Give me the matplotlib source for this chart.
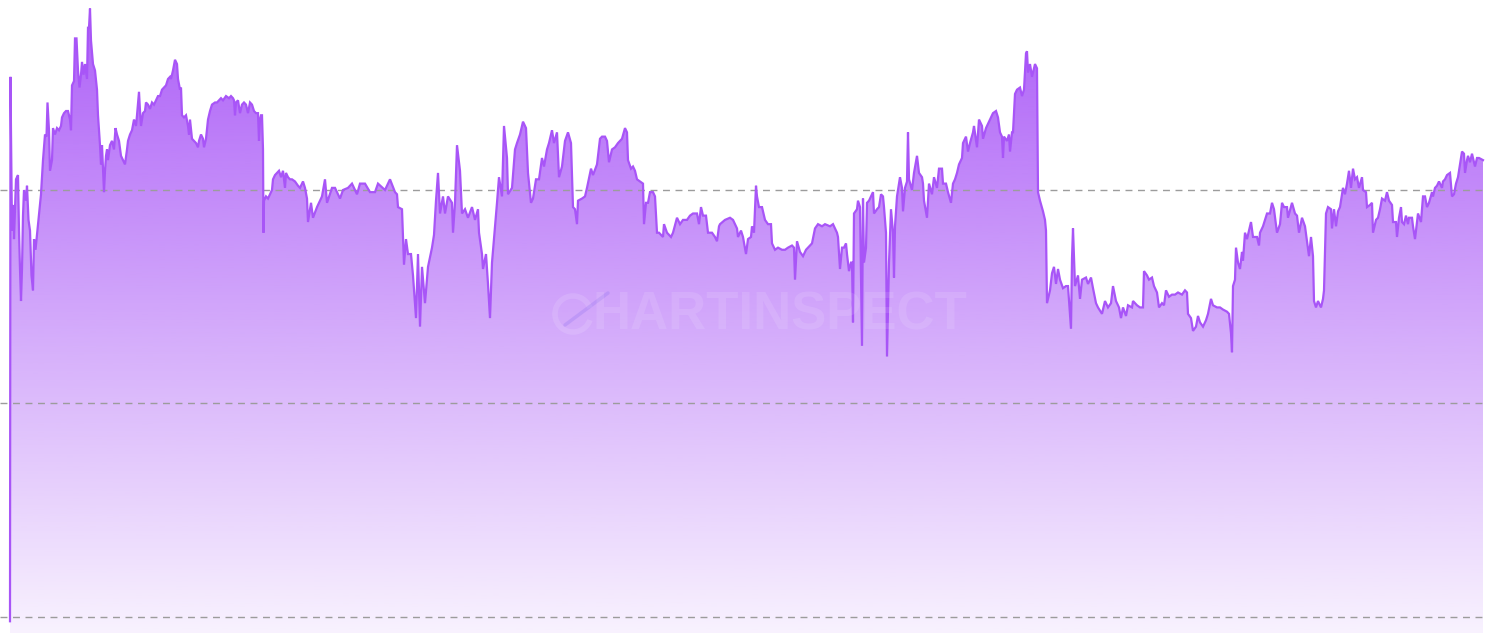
import matplotlib
matplotlib.use("Agg")
import matplotlib.pyplot as plt
import numpy as np
from matplotlib.colors import to_rgb
from matplotlib.patches import Arc

# day offsets and index level (gridlines sit at 0 / 100 / 200)
days = [0, 0.5, 1, 2, 3.5, 4, 6, 8, 9, 10, 11, 12, 13, 14, 16, 17, 18.5, 20, 21.5, 23,
        24, 25.5, 27, 29, 31, 33, 35, 36.5, 37.5, 39, 40, 42, 43, 45, 47, 49, 51, 52, 54, 56,
        58, 60, 61, 62, 64, 65, 66.5, 68, 69.5, 71, 72, 73.5, 75, 77, 78, 79, 80, 81, 83, 85,
        87, 88, 90, 91, 92, 94, 95, 96, 97, 98, 100, 102, 104, 105.5, 107, 109, 111, 113, 115, 117,
        118, 120, 122, 124, 126, 127, 129, 130, 131, 133, 135, 136, 138, 140, 142, 144, 146, 148, 150, 152,
        154, 156, 158, 160, 161, 163, 165, 167, 168, 170, 171, 172, 174, 176, 178, 179, 180, 182, 184, 186,
        188, 189, 191, 193, 194, 196, 198, 200, 202, 205, 207, 209, 211, 213, 216, 219, 221, 223, 224, 225,
        226, 228, 230, 232, 234, 236, 238, 240, 242, 244, 246, 248, 249, 250, 251, 252, 253, 253.5, 254, 256,
        258, 260, 262, 263, 265, 267, 269, 271, 273, 275, 276, 278, 280, 282, 285, 288, 290,
        293, 295, 297, 298, 301, 303, 307, 312, 315, 317, 322, 325, 330, 333, 338, 342, 347, 350, 355, 360,
        365, 368, 375, 380, 385, 387, 388, 392, 394, 396, 398, 401, 403, 406, 408, 410, 412, 415, 418, 422,
        424, 426, 428, 430, 433, 435, 438, 442, 443, 445, 447, 450, 452, 455, 458, 462, 465, 468, 469, 472,
        473, 476, 478, 480, 482, 484, 487, 489,
        492, 494, 497, 498, 502, 505, 507, 510, 513, 516, 518, 521, 523, 526, 529, 532, 534, 537, 539, 542,
        544, 547, 549, 552, 555, 558, 561, 563, 565, 567, 568, 572, 575, 577, 581, 583, 587, 590, 592, 595,
        597, 599, 602, 605, 608, 612, 615, 617, 618, 621, 623, 625, 627, 630, 633, 634, 636, 638, 640, 643,
        645, 647, 649, 653, 654, 657, 661, 663, 667, 670, 673, 677, 680, 683, 687, 689, 691, 693, 696, 698,
        702, 705, 707, 709,
        710, 715, 720, 723, 727, 728, 731, 733, 736, 738, 741, 742, 744, 746, 747, 749, 752, 755, 758, 761,
        762, 765, 768, 772, 775, 778, 782, 784, 785, 787, 790, 793, 796, 798, 802, 805, 808, 812, 815, 820,
        823, 827, 828, 830, 832, 834, 836, 837, 839, 841, 842, 843, 844, 847, 848, 850, 852, 853, 854, 856,
        857, 859, 861, 863, 864, 867, 869, 871, 873, 874, 876, 877, 879, 881, 883, 884, 885, 887, 888, 890,
        892, 893, 895, 897, 898, 899, 902, 904, 907, 909, 912, 913, 914, 917, 919, 922, 924, 927, 929, 932,
        933, 936, 938, 941, 943, 945, 947, 949, 952, 953, 956, 958, 960, 963, 964, 967, 969, 972, 973, 976,
        978, 981, 983, 986, 988, 990, 992, 993, 994, 997, 999, 1000, 1002, 1003, 1005, 1007, 1010, 1012, 1014, 1016,
        1017, 1018, 1020, 1022, 1023, 1025, 1027, 1028, 1030, 1033, 1035, 1036, 1037, 1040, 1042, 1044, 1046, 1048, 1050, 1053,
        1056, 1058, 1060, 1061, 1062, 1063, 1065, 1068, 1070, 1072, 1076, 1078, 1081, 1083, 1086, 1088,
        1092, 1095, 1098, 1101, 1103, 1106, 1109, 1111, 1113, 1116, 1118, 1122, 1123, 1127, 1130, 1133, 1134, 1137, 1139, 1142,
        1144, 1147, 1149, 1152, 1154, 1156, 1159, 1162, 1165, 1168, 1172, 1175, 1177, 1178, 1181, 1183, 1186, 1188, 1190, 1193,
        1196, 1198, 1201, 1203, 1207, 1210, 1213, 1217, 1219, 1221, 1222, 1223, 1225, 1226, 1228, 1230, 1232, 1233, 1235, 1237,
        1241, 1243, 1247, 1249,
        1250, 1253, 1257, 1260, 1262, 1264, 1267, 1270, 1272, 1274, 1277, 1278, 1282, 1285, 1287, 1289, 1292, 1295, 1297, 1299,
        1301, 1303, 1304, 1306, 1308, 1311, 1313, 1314, 1316, 1318, 1321, 1322, 1324, 1326, 1328, 1330, 1333, 1335, 1337, 1339,
        1341, 1343, 1345, 1347, 1349, 1352, 1353, 1356, 1357, 1360, 1362, 1363, 1366, 1368, 1370, 1372, 1375, 1377, 1379, 1382,
        1383, 1386, 1387, 1389, 1391, 1392, 1394, 1396, 1398, 1399, 1402, 1403, 1405, 1407, 1408, 1411, 1413, 1415, 1417, 1419,
        1422, 1423, 1425, 1427, 1429, 1432, 1433, 1435, 1437, 1440, 1442, 1444, 1446, 1448, 1450, 1452, 1454, 1455, 1457, 1458,
        1460, 1462, 1463, 1465, 1467, 1469, 1473]

values = [-2, 253, 227, 181, 193, 177, 205, 207, 181, 163, 148, 163, 188, 200, 195, 202, 186, 181, 160, 153,
          177, 172, 179, 188, 198, 214, 226, 225, 241, 228, 209, 214, 229, 226, 229, 228, 230, 234, 236, 237,
          237, 233, 228, 249, 251, 271, 271, 256, 248, 254, 260, 254, 259, 252, 276, 276, 285, 270, 259, 256,
          247, 235, 221, 212, 221, 199, 209, 216, 219, 214, 221, 223, 219, 229, 226, 223, 216, 214, 212, 219,
          223, 226, 228, 233, 230, 235, 246, 237, 230, 236, 237, 241, 240, 238, 241, 240, 242, 244, 244, 247,
          248, 249, 252, 253, 252, 256, 261, 259, 252, 247, 248, 235, 234, 235, 230, 226, 233, 224, 223, 222,
          220, 223, 226, 224, 220, 224, 233, 237, 240, 241, 241, 242, 243, 242, 244, 243, 244, 243, 242, 235,
          241, 242, 236, 240, 241, 240, 236, 241, 240, 237, 236, 236, 223, 233, 235, 235, 219, 180, 195, 197,
          196, 198, 200, 205, 207, 208, 209, 206, 209, 201, 208, 206, 205, 205, 204, 202, 201,
          204, 201, 196, 185, 194, 187, 192, 197, 205, 194, 201, 201, 196, 200, 201, 203, 198, 203, 203, 199,
          199, 203, 200, 205, 199, 198, 192, 191, 165, 177, 170, 170, 160, 140, 170, 136, 164, 147, 164, 173,
          179, 195, 208, 189, 197, 189, 197, 194, 180, 194, 221, 209, 189, 191, 187, 192, 186, 191, 180, 170,
          163, 170, 156, 140, 166, 177, 194, 206,
          197, 230, 215, 198, 201, 219, 222, 226, 232, 229, 208, 194, 196, 205, 205, 215, 211, 219, 222, 228,
          222, 227, 206, 211, 223, 227, 222, 192, 191, 184, 195, 196, 197, 201, 210, 207, 212, 224, 225, 225,
          223, 213, 219, 220, 222, 224, 229, 227, 214, 210, 211, 209, 205, 204, 203, 184, 194, 194, 199, 199,
          197, 180, 180, 178, 184, 180, 178, 180, 187, 184, 186, 186, 188, 189, 189, 184, 192, 188, 188, 180,
          180, 178, 176, 183,
          184, 186, 187, 186, 182, 178, 181, 178, 170, 177, 178, 183, 180, 202, 197, 192, 192, 186, 184, 184,
          175, 172, 173, 172, 172, 173, 174, 173, 158, 176, 171, 169, 172, 173, 175, 182, 184, 183, 184, 183,
          184, 180, 178, 163, 173, 173, 175, 170, 162, 166, 166, 138, 189, 191, 195, 192, 127, 196, 166, 173,
          194, 195, 197, 199, 189, 191, 192, 198, 197, 192, 180, 122, 166, 191, 180, 159, 183, 197, 200, 206,
          201, 190, 201, 204, 227, 205, 200, 208, 216, 208, 206, 203, 195, 187, 203, 198, 206, 201, 210, 210,
          203, 203, 199, 194, 203, 205, 208, 212, 215, 222, 225, 218, 222, 227, 230, 220, 233, 230, 224, 229,
          231, 234, 236, 237, 234, 227, 225, 215, 225, 223, 226, 218, 227, 227, 245, 247, 248, 244, 247, 264,
          265, 255, 259, 253, 255, 259, 257, 199, 195, 190, 186, 181, 147, 153, 161, 164, 156, 163, 158, 154,
          155, 155, 142, 135, 168, 182, 155, 160, 149, 158, 159, 156, 159, 154, 147, 145,
          142, 148, 145, 147, 155, 148, 145, 140, 145, 141, 146, 145, 148, 146, 145, 145, 162, 160, 158, 159,
          155, 152, 145, 147, 146, 153, 150, 151, 151, 152, 151, 153, 152, 142, 140, 134, 136, 141, 138, 136,
          139, 142, 149, 146, 145, 145, 144, 143, 142, 133, 124, 155, 158, 173, 166, 163, 171, 167, 180, 177,
          185, 178, 178, 174,
          180, 183, 189, 189, 194, 191, 180, 184, 194, 192, 192, 187, 194, 189, 188, 180, 187, 183, 176, 169,
          178, 169, 148, 145, 148, 145, 149, 153, 189, 192, 191, 182, 191, 183, 190, 192, 201, 198, 203, 209,
          201, 210, 205, 206, 201, 206, 200, 199, 192, 193, 194, 180, 186, 187, 191, 196, 195, 199, 195, 193,
          185, 185, 178, 187, 192, 185, 184, 188, 184, 187, 187, 183, 177, 185, 189, 185, 197, 197, 192, 194,
          199, 197, 201, 202, 204, 201, 204, 205, 207, 208, 197, 198, 203, 206, 212, 218, 217, 208, 214, 216,
          213, 217, 215, 211, 215, 215, 214]

grid_levels = [0, 100, 200]

LINE = "#a855f7"
Y_LO, Y_HI = -7.5, 289

fig = plt.figure(figsize=(14.9, 6.33), dpi=100)
ax = fig.add_axes([0, 0, 1485 / 1490, 1])
ax.set_xlim(-10, 1475)
ax.set_ylim(Y_LO, Y_HI)
ax.axis("off")

# gradient area under the line
fill = ax.fill_between(days, values, Y_LO, color="none", lw=0)
rgba = np.zeros((256, 1, 4))
rgba[..., :3] = to_rgb(LINE)
rgba[..., 3] = np.linspace(0.08, 0.95, 256).reshape(-1, 1)
im = ax.imshow(rgba, extent=[days[0], days[-1], Y_LO, Y_HI], origin="lower",
               aspect="auto", zorder=2, interpolation="bilinear")
im.set_clip_path(fill.get_paths()[0], transform=ax.transData)

for g in grid_levels:
    ax.axhline(g, color="#9c9c9c", lw=1, ls=(0, (5, 4)), zorder=3)

ax.plot(days, values, color=LINE, lw=1.6, zorder=4, solid_joinstyle="miter")

# watermark (logo ring + comet, then the word)
W, H = 1485, 633
ax.add_patch(Arc((573 / W, 1 - 314 / H), 36 / W, 36 / H, theta1=40, theta2=320,
                 transform=ax.transAxes, color="white", alpha=0.12, lw=4, zorder=5))
ax.plot([565 / W, 608 / W], [1 - 325 / H, 1 - 293 / H], transform=ax.transAxes,
        color="#8a6cf0", alpha=0.25, lw=2.5, solid_capstyle="round", zorder=5)
ax.text(593 / W, 1 - 316 / H, "HARTINSPECT", transform=ax.transAxes, ha="left", va="center",
        fontsize=38, fontweight="bold", family="Liberation Sans", color="white", alpha=0.11, zorder=5)

fig.savefig("out.png", dpi=100)
